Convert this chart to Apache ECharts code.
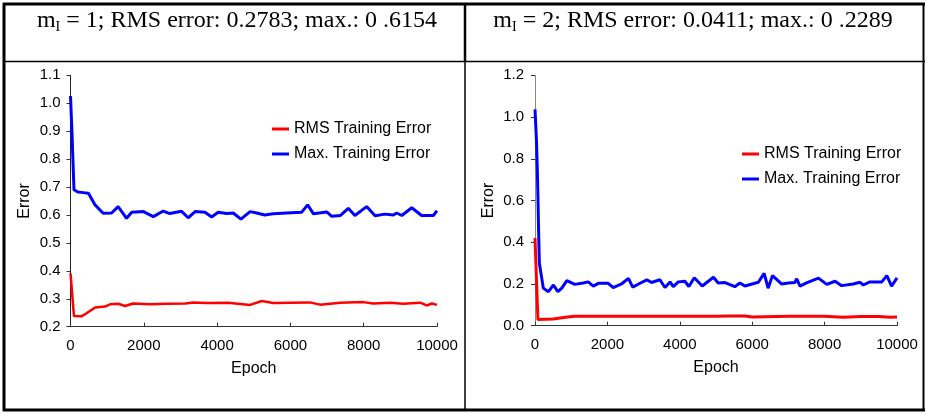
<!DOCTYPE html>
<html>
<head>
<meta charset="utf-8">
<script src="https://cdn.jsdelivr.net/npm/echarts@6/dist/echarts.min.js"></script>
<style>
html,body{margin:0;padding:0;background:#fff;}
#c{width:927px;height:414px;}
</style>
</head>
<body>
<div id="c"></div>
<script>
// ---- Data ----
const seriesNames = ['RMS Training Error', 'Max. Training Error'];
const headerLeft = ['m', 'I', ' = 1; RMS error: 0.2783; max.: 0 .6154'];
const headerRight = ['m', 'I', ' = 2; RMS error: 0.0411; max.: 0 .2289'];

const xTicksEpoch = [0, 10000, 2000];          // min, max, interval
const leftYTicks = [0.2, 1.1, 0.1];
const rightYTicks = [0.0, 1.2, 0.2];

// Left chart (m_I = 1)
const leftRmsEpoch = [0,95,300,440,670,940,1080,1300,1490,1710,2170,2620,3130,3350,3720,4300,4900,5220,5530,6000,6530,6810,7360,7990,8260,8720,9080,9540,9720,9860,10000];
const leftRmsValue = [0.391,0.238,0.237,0.248,0.269,0.272,0.28,0.282,0.274,0.283,0.28,0.282,0.283,0.287,0.285,0.286,0.278,0.292,0.285,0.286,0.287,0.279,0.286,0.288,0.283,0.286,0.282,0.286,0.276,0.283,0.278];
const leftMaxEpoch = [0,20,40,60,95,200,350,490,670,890,1120,1300,1530,1670,1990,2260,2530,2710,3030,3210,3400,3670,3850,4030,4260,4440,4650,4900,5080,5300,5530,5900,6310,6470,6630,6990,7130,7360,7580,7760,8080,8310,8580,8810,8900,9040,9310,9580,9900,10000];
const leftMaxValue = [1.026,0.96,0.9,0.82,0.69,0.682,0.68,0.678,0.636,0.606,0.607,0.63,0.588,0.61,0.612,0.594,0.614,0.605,0.613,0.59,0.612,0.61,0.593,0.61,0.605,0.607,0.585,0.612,0.607,0.6,0.604,0.607,0.61,0.636,0.604,0.611,0.595,0.598,0.624,0.598,0.63,0.597,0.603,0.6,0.607,0.598,0.626,0.598,0.598,0.615];

// Right chart (m_I = 2)
const rightRmsEpoch = [0,80,500,900,1100,2000,3000,4000,5000,5400,5800,6000,7000,8000,8500,9000,9500,9800,10000];
const rightRmsValue = [0.42,0.03,0.032,0.042,0.045,0.045,0.045,0.045,0.045,0.046,0.046,0.042,0.045,0.045,0.041,0.044,0.044,0.04,0.042];
const rightMaxEpoch = [0,40,65,85,100,120,230,370,510,630,740,880,1100,1330,1470,1610,1750,2020,2160,2390,2580,2700,2860,3090,3220,3450,3590,3730,3820,3960,4140,4250,4400,4620,4930,5060,5250,5520,5660,5800,6170,6330,6440,6560,6810,7000,7180,7230,7320,7500,7830,8060,8290,8470,8790,8980,9070,9250,9580,9720,9850,10000];
const rightMaxValue = [1.037,0.89,0.74,0.586,0.45,0.3,0.18,0.163,0.195,0.163,0.18,0.216,0.198,0.205,0.21,0.19,0.203,0.203,0.183,0.2,0.227,0.185,0.2,0.22,0.207,0.22,0.183,0.21,0.187,0.21,0.213,0.188,0.23,0.19,0.232,0.205,0.207,0.187,0.205,0.19,0.208,0.251,0.18,0.24,0.2,0.205,0.207,0.225,0.19,0.205,0.228,0.198,0.213,0.192,0.2,0.208,0.195,0.21,0.21,0.24,0.19,0.229];

// ---- Build ----
const pairs = (xs, ys) => xs.map((x, i) => [x, ys[i]]);
const SANS = '"Liberation Sans", Arial, sans-serif';
const SERIF = '"Liberation Serif", "Times New Roman", serif';
const RED = '#ff0000', BLUE = '#0000ff';

function xAxis(grid) {
  return {
    type: 'value', gridIndex: grid,
    min: xTicksEpoch[0], max: xTicksEpoch[1], interval: xTicksEpoch[2],
    name: 'Epoch', nameLocation: 'middle', nameGap: 34,
    nameTextStyle: { fontFamily: SANS, fontSize: 16, color: '#000' },
    axisLine: { onZero: false, lineStyle: { color: '#333', width: 1 } },
    axisTick: { inside: true, length: 4, lineStyle: { color: '#333' } },
    axisLabel: { margin: 12, fontFamily: SANS, fontSize: 15, color: '#000',
      formatter: v => String(v) },
    splitLine: { show: false }
  };
}
function yAxis(grid, t, lineColor, margin) {
  return {
    type: 'value', gridIndex: grid,
    min: t[0], max: t[1], interval: t[2],
    name: 'Error', nameLocation: 'middle', nameGap: 38, nameRotate: 90,
    nameTextStyle: { fontFamily: SANS, fontSize: 16, color: '#000' },
    axisLine: { show: true, onZero: false, lineStyle: { color: lineColor, width: 1 } },
    axisTick: { show: true, inside: false, length: 4, lineStyle: { color: '#333' } },
    axisLabel: { margin: margin, fontFamily: SANS, fontSize: 15, color: '#000',
      formatter: v => v.toFixed(1) },
    splitLine: { show: false }
  };
}
function legend(left, top) {
  return {
    left: left, top: top, orient: 'vertical', selectedMode: false,
    itemWidth: 17, itemHeight: 3, itemGap: 9, icon: 'rect',
    textStyle: { fontFamily: SANS, fontSize: 16, color: '#000', padding: [0, 0, 0, 0] },
    data: seriesNames
  };
}
function headerText(parts, cx) {
  return {
    type: 'text', x: cx, y: 21,
    style: {
      text: '{m|' + parts[0] + '}{s|' + parts[1] + '}{m|' + parts[2] + '}',
      align: 'center', verticalAlign: 'middle',
      rich: {
        m: { fontFamily: SERIF, fontSize: 24, lineHeight: 26, fill: '#000', verticalAlign: 'middle' },
        s: { fontFamily: SERIF, fontSize: 14, lineHeight: 15, fill: '#000', verticalAlign: 'bottom' }
      }
    }
  };
}
function hline(x1, x2, y, w) {
  return { type: 'line', shape: { x1: x1, y1: y, x2: x2, y2: y }, style: { stroke: '#000', lineWidth: w } };
}
function vline(x, y1, y2, w) {
  return { type: 'line', shape: { x1: x, y1: y1, x2: x, y2: y2 }, style: { stroke: '#000', lineWidth: w } };
}

const option = {
  animation: false,
  backgroundColor: '#fff',
  grid: [
    { left: 70.5, right: 490, top: 75.3, bottom: 87.3 },
    { left: 535, right: 30, top: 75.3, bottom: 88.3 }
  ],
  xAxis: [xAxis(0), xAxis(1)],
  yAxis: [yAxis(0, leftYTicks, '#222', 10), yAxis(1, rightYTicks, '#888', 11)],
  legend: [legend(267, 116), legend(737, 141)],
  series: [
    { name: seriesNames[1], type: 'line', xAxisIndex: 0, yAxisIndex: 0, showSymbol: false, symbol: 'none',
      data: pairs(leftMaxEpoch, leftMaxValue), lineStyle: { color: BLUE, width: 3 }, itemStyle: { color: BLUE } },
    { name: seriesNames[0], type: 'line', xAxisIndex: 0, yAxisIndex: 0, showSymbol: false, symbol: 'none',
      data: pairs(leftRmsEpoch, leftRmsValue), lineStyle: { color: RED, width: 2.5 }, itemStyle: { color: RED } },
    { name: seriesNames[1], type: 'line', xAxisIndex: 1, yAxisIndex: 1, showSymbol: false, symbol: 'none',
      data: pairs(rightMaxEpoch, rightMaxValue), lineStyle: { color: BLUE, width: 3 }, itemStyle: { color: BLUE } },
    { name: seriesNames[0], type: 'line', xAxisIndex: 1, yAxisIndex: 1, showSymbol: false, symbol: 'none',
      data: pairs(rightRmsEpoch, rightRmsValue), lineStyle: { color: RED, width: 3 }, itemStyle: { color: RED } }
  ],
  graphic: [
    // table borders
    hline(3, 925, 4, 3),
    hline(3, 925, 410, 3),
    vline(4, 3, 411, 3),
    vline(923.5, 3, 411, 2),
    hline(3, 925, 61.5, 1.5),
    vline(465, 3, 62, 2.5),
    vline(465, 61, 411, 1.5),
    headerText(headerLeft, 237),
    headerText(headerRight, 693)
  ]
};

const chart = echarts.init(document.getElementById('c'), null, { renderer: 'canvas' });
chart.setOption(option);
</script>
</body>
</html>
